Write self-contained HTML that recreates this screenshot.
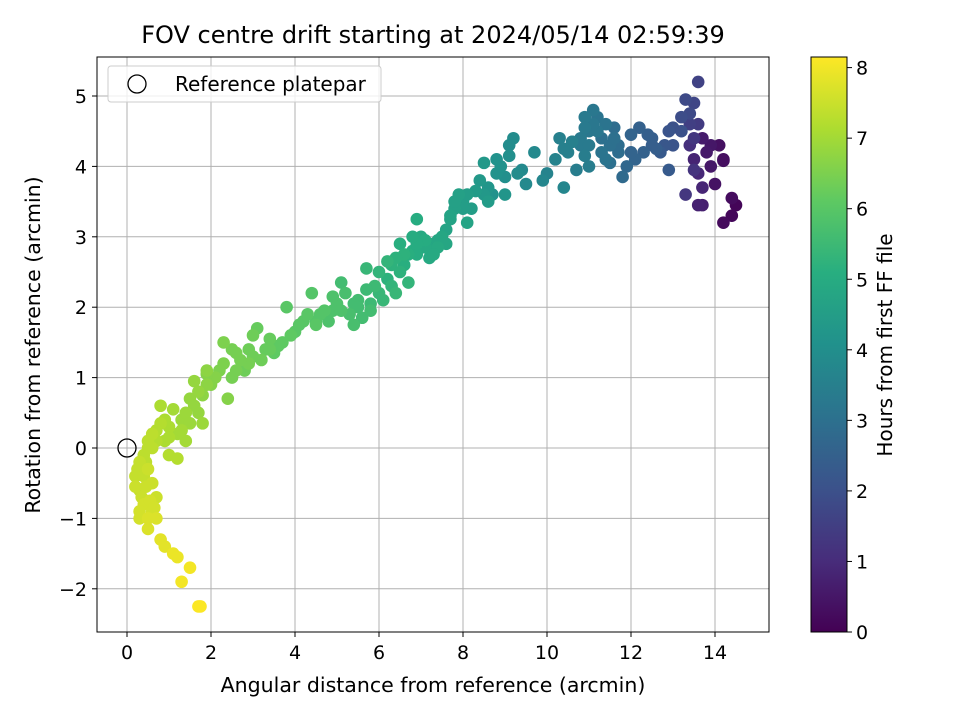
<!DOCTYPE html>
<html><head><meta charset="utf-8"><style>
body{margin:0;background:#fff}
svg{display:block;font-family:"DejaVu Sans","Liberation Sans",sans-serif}
</style></head><body>
<svg id="chart" width="960" height="720" viewBox="0 0 960 720">
<defs>
<linearGradient id="vir" x1="0" y1="1" x2="0" y2="0">
<stop offset="0" stop-color="#440154"/><stop offset="0.125" stop-color="#472d7b"/>
<stop offset="0.25" stop-color="#3b528b"/><stop offset="0.375" stop-color="#2c728e"/>
<stop offset="0.5" stop-color="#21918c"/><stop offset="0.625" stop-color="#28ae80"/>
<stop offset="0.75" stop-color="#5ec962"/><stop offset="0.875" stop-color="#addc30"/>
<stop offset="1" stop-color="#fde725"/></linearGradient>
<clipPath id="clip"><rect x="97" y="57" width="672" height="575"/></clipPath>
</defs>
<text x="433" y="43" text-anchor="middle" font-size="24">FOV centre drift starting at 2024/05/14 02:59:39</text>
<g id="grid"></g>
<g id="pts" clip-path="url(#clip)"></g>
<rect x="97" y="57" width="672" height="575" fill="none" stroke="#000" stroke-width="1"/>
<g id="axes"></g>
<text x="433" y="692" text-anchor="middle" font-size="20.5">Angular distance from reference (arcmin)</text>
<text transform="translate(40,345) rotate(-90)" text-anchor="middle" font-size="20.5">Rotation from reference (arcmin)</text>
<g>
<rect x="108" y="66" width="273" height="36" rx="3" fill="#fff" fill-opacity="0.8" stroke="#ccc"/>
<circle cx="137" cy="84" r="9" fill="none" stroke="#000" stroke-width="1.3"/>
<text x="175" y="91" font-size="20">Reference platepar</text>
</g>
<rect x="811" y="57" width="36" height="575" fill="url(#vir)" stroke="#000"/>
<g id="cbax"></g>
<text transform="translate(892,345) rotate(-90)" text-anchor="middle" font-size="20">Hours from first FF file</text>
</svg>
<script>
const xTicks=[0,2,4,6,8,10,12,14];
const yTicks=[-2,-1,0,1,2,3,4,5];
const cTicks=[0,1,2,3,4,5,6,7,8];
const dist=[14.5,14.4,14.2,14.4,14.2,14.1,14.0,13.9,13.8,13.7,13.7,13.6,13.5,13.7,13.6,13.9,14.2,13.4,13.5,13.3,13.6,13.6,13.5,13.3,13.2,13.0,12.9,13.4,12.8,12.9,12.5,12.4,12.2,12.0,12.3,12.1,11.9,11.8,11.7,11.5,11.3,11.4,11.2,11.1,11.0,10.9,10.8,11.0,10.7,10.5,10.3,10.2,10.0,10.4,9.9,9.7,9.5,9.3,9.2,9.1,9.0,8.8,8.7,9.0,8.6,8.5,8.4,8.3,8.6,8.2,8.0,7.9,7.8,8.1,7.6,7.5,7.3,7.2,7.0,6.9,6.8,6.6,6.5,6.3,6.2,6.0,6.7,6.4,6.1,5.9,5.7,5.5,5.6,5.3,5.2,5.0,4.8,4.6,4.4,4.2,4.0,3.8,3.7,3.5,3.3,3.1,3.0,2.8,2.6,2.5,2.3,2.2,2.4,2.0,1.9,1.8,1.7,1.6,1.5,1.8,1.3,1.2,1.1,1.4,1.0,0.9,0.8,0.8,1.0,0.7,0.6,0.5,0.4,0.3,0.2,0.3,0.5,0.6,0.7,0.4,0.3,0.6,0.5,0.7,0.8,0.9,1.1,1.2,1.5,1.3,1.7,1.75,0.6,1.2,7.7,7.1,6.6,5.8,5.4,4.9,4.5,3.4,2.9,7.4,6.9,10.6,11.6,12.6,
10.8,11.0,11.2,11.4,11.6,11.3,10.9,11.5,11.7,10.6,10.4,12.0,12.5,12.7,13.0,13.2,13.4,13.5,11.1,10.9,
8.9,9.1,9.4,8.5,8.0,7.8,7.7,7.4,7.1,6.9,7.3,6.7,6.5,6.4,6.2,6.3,6.0,5.8,5.5,5.4,5.1,4.9,4.7,4.5,4.3,4.1,3.9,3.6,3.4,3.2,2.9,2.7,2.5,2.3,2.1,1.9,1.7,1.6,1.4,1.5,1.3,1.0,0.9,0.7,0.5,0.4,0.35,0.45,0.55,0.65,0.5,0.3,0.2,0.25,0.45,1.9,2.6,3.0,5.1,5.7,6.8,7.6,8.1,8.8];
const rot=[3.45,3.3,3.2,3.55,4.1,4.3,3.75,4.0,4.2,4.4,3.45,3.45,4.1,3.7,3.9,4.3,4.08,4.3,3.95,3.6,4.6,5.2,4.9,4.95,4.7,4.55,4.5,4.6,4.3,3.95,4.4,4.45,4.55,4.45,4.2,4.1,4.0,3.85,4.2,4.3,4.4,4.1,4.7,4.8,4.5,4.7,4.3,4.0,3.95,4.2,4.4,4.1,3.9,3.7,3.8,4.2,3.75,3.9,4.4,4.15,3.85,3.9,3.6,3.6,3.7,4.05,3.8,3.65,3.5,3.4,3.5,3.6,3.4,3.2,3.1,3.0,2.9,2.7,3.0,3.25,2.8,2.6,2.9,2.6,2.4,2.5,2.35,2.2,2.1,2.3,2.25,2.1,1.85,1.9,2.2,2.05,1.8,1.9,2.2,1.8,1.65,2.0,1.5,1.35,1.4,1.7,1.3,1.1,1.35,1.0,1.5,1.1,0.7,0.9,1.1,0.75,0.5,0.95,0.7,0.35,0.4,0.2,0.55,0.1,0.3,0.1,0.6,0.35,-0.1,0.1,0.2,0.1,-0.1,-0.2,-0.4,-0.6,-0.3,-0.5,-0.7,-0.8,-1.0,-0.9,-1.15,-1.0,-1.3,-1.4,-1.5,-1.55,-1.7,-1.9,-2.25,-2.25,0.0,-0.15,3.3,2.95,2.75,1.95,2.05,1.95,1.75,1.4,1.2,2.85,2.75,4.35,4.55,4.25,
4.4,4.3,4.5,4.6,4.4,4.2,4.15,4.05,4.3,4.35,4.25,4.2,4.3,4.2,4.3,4.5,4.75,4.4,4.6,4.55,
4.0,4.3,3.95,3.6,3.4,3.5,3.25,2.95,2.85,2.9,2.75,2.75,2.5,2.7,2.65,2.3,2.2,2.05,2.0,1.75,1.95,2.15,1.95,1.8,1.9,1.75,1.6,1.45,1.55,1.25,1.4,1.25,1.4,1.2,1.0,0.9,0.8,0.6,0.5,0.35,0.25,0.15,0.4,0.25,0.0,-0.4,-0.7,-0.55,-0.75,-0.85,-1.0,-0.9,-0.55,-0.3,-0.2,1.05,1.1,1.6,2.35,2.55,3.0,2.9,3.6,4.1];
const hours=[0.1,0.15,0.2,0.25,0.3,0.35,0.4,0.5,0.55,0.6,0.7,0.75,0.8,0.85,0.9,0.5,0.3,1.1,1.2,1.3,1.4,1.6,1.7,1.8,1.9,2.0,2.1,1.5,2.2,2.3,2.4,2.45,2.5,2.6,2.5,2.6,2.7,2.8,2.9,3.0,3.0,3.1,3.1,3.2,3.2,3.3,3.3,3.4,3.4,3.5,3.5,3.6,3.6,3.7,3.7,3.8,3.8,3.9,3.9,4.0,4.0,4.1,4.1,4.2,4.2,4.3,4.3,4.4,4.4,4.5,4.5,4.6,4.6,4.7,4.7,4.8,4.8,4.9,4.9,5.0,5.0,5.1,5.1,5.2,5.2,5.3,5.3,5.4,5.4,5.5,5.5,5.6,5.6,5.7,5.7,5.8,5.8,5.9,5.9,6.0,6.0,6.0,6.1,6.1,6.2,6.2,6.3,6.3,6.4,6.4,6.5,6.5,6.6,6.6,6.7,6.7,6.8,6.8,6.8,6.9,6.9,7.0,7.0,7.0,7.1,7.1,7.1,7.2,7.2,7.2,7.3,7.3,7.3,7.4,7.4,7.4,7.5,7.5,7.5,7.6,7.6,7.6,7.7,7.7,7.8,7.8,7.9,7.9,8.0,8.0,8.1,8.1,7.3,7.2,4.7,5.0,5.2,5.6,5.6,5.8,6.0,6.2,6.4,4.9,5.0,3.5,2.9,2.4,
3.3,3.3,3.2,3.1,3.0,3.1,3.4,3.0,2.9,3.5,3.5,2.6,2.4,2.3,2.1,2.0,1.8,1.3,3.2,3.3,
4.1,3.9,3.8,4.3,4.5,4.6,4.7,4.8,4.9,5.0,4.9,5.1,5.2,5.2,5.3,5.3,5.4,5.5,5.6,5.7,5.8,5.8,5.9,5.9,6.0,6.0,6.1,6.1,6.2,6.3,6.3,6.4,6.4,6.5,6.6,6.7,6.8,6.8,6.9,6.9,7.0,7.1,7.1,7.2,7.3,7.4,7.5,7.5,7.6,7.6,7.7,7.6,7.5,7.4,7.3,6.6,6.4,6.3,5.6,5.4,5.0,4.8,4.5,4.1];
const ns='http://www.w3.org/2000/svg';
const X=v=>127+v*42, Y=v=>448-v*70.4, C=v=>632-v*70.55;
const vir=['#440154','#472d7b','#3b528b','#2c728e','#21918c','#28ae80','#5ec962','#addc30','#fde725'];
function hx(c){return [1,3,5].map(i=>parseInt(c.substr(i,2),16));}
function color(h){let t=Math.max(0,Math.min(1,h/8.13))*8;let i=Math.min(7,Math.floor(t)),f=t-i;let a=hx(vir[i]),b=hx(vir[i+1]);return 'rgb('+a.map((v,k)=>Math.round(v+(b[k]-v)*f)).join(',')+')';}
function mk(tag,at,parent){const e=document.createElementNS(ns,tag);for(const k in at)e.setAttribute(k,at[k]);parent.appendChild(e);return e;}
const grid=document.getElementById('grid'),axes=document.getElementById('axes'),pts=document.getElementById('pts'),cb=document.getElementById('cbax');
xTicks.forEach(t=>{
 const l=mk('line',{x1:X(t),x2:X(t),y1:57,y2:632,stroke:'#b0b0b0','stroke-width':1},grid);
 
 
 mk('line',{x1:X(t),x2:X(t),y1:632,y2:637,stroke:'#000'},axes);
 const tx=mk('text',{x:X(t),y:659,'text-anchor':'middle','font-size':19},axes);tx.textContent=t;
 
 
});
yTicks.forEach(t=>{
 const l=mk('line',{x1:97,x2:769,y1:Y(t),y2:Y(t),stroke:'#b0b0b0','stroke-width':1},grid);
 
 
 mk('line',{x1:92,x2:97,y1:Y(t),y2:Y(t),stroke:'#000'},axes);
 const tx=mk('text',{x:87,y:Y(t)+7,'text-anchor':'end','font-size':19},axes);tx.textContent=(t<0?'\u2212'+(-t):t);
 
 
});
cTicks.forEach(t=>{
 mk('line',{x1:847,x2:852,y1:C(t),y2:C(t),stroke:'#000'},cb);
 const tx=mk('text',{x:856,y:C(t)+7,'font-size':19},cb);tx.textContent=t;
 
 
});
const order=hours.map((h,i)=>i).sort((a,b)=>hours[a]-hours[b]);
order.forEach(i=>{
 const c=mk('circle',{cx:X(dist[i]),cy:Y(rot[i]),r:6.3,fill:color(hours[i])},pts);
 
 
});
const ref=mk('circle',{cx:X(0),cy:Y(0),r:9,fill:'none',stroke:'#000','stroke-width':1.3},pts);


</script>
</body></html>
